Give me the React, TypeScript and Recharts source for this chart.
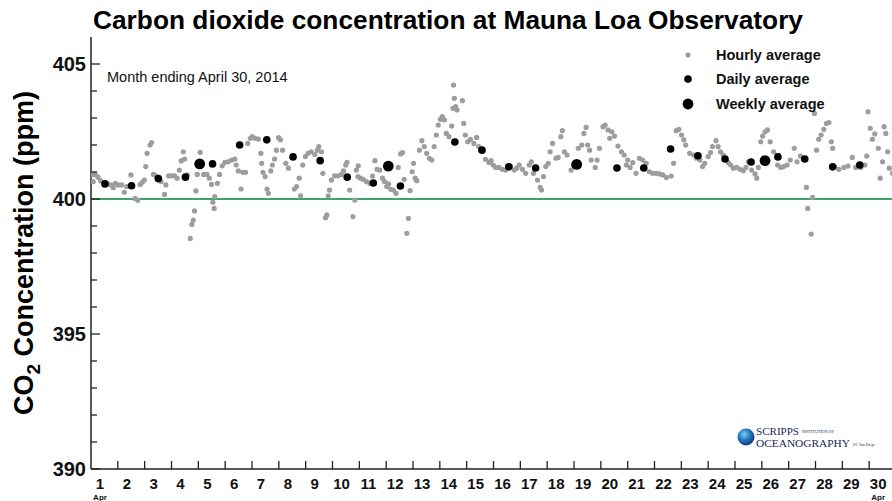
import React from 'react';
import { ScatterChart, Scatter, XAxis, YAxis, ReferenceLine } from 'recharts';

// Hourly averages: [day of April (fractional), CO2 ppm]
const hourly: [number, number][] = [
  [1.04, 400.89], [1.08, 400.64], [1.16, 400.91], [1.26, 400.81], [1.36, 400.67], [1.61, 400.57], [1.74, 400.52], [1.83, 400.42], [1.91, 400.58], [2.01, 400.52],
  [2.14, 400.52], [2.24, 400.25], [2.33, 400.46], [2.49, 400.89], [2.64, 400.02], [2.74, 399.95], [2.83, 400.54], [2.91, 400.62], [2.99, 400.7],
  [3.04, 401.2], [3.09, 401.69], [3.2, 402.0], [3.26, 402.09], [3.33, 400.91], [3.41, 400.86], [3.49, 400.7], [3.61, 400.64], [3.74, 400.17], [3.79, 400.52], [3.89, 400.86], [3.99, 400.86],
  [4.11, 400.86], [4.21, 400.77], [4.29, 401.07], [4.36, 401.41], [4.44, 401.75], [4.49, 401.48], [4.59, 400.89], [4.7, 398.54], [4.76, 399.06], [4.81, 399.22], [4.86, 399.56], [4.91, 400.3], [4.96, 400.91],
  [5.07, 401.73], [5.2, 400.91], [5.32, 400.91], [5.41, 400.77], [5.49, 400.54], [5.54, 399.88], [5.59, 399.65], [5.61, 400.09], [5.71, 400.58], [5.79, 400.91], [5.89, 401.23], [5.99, 401.36],
  [6.11, 401.38], [6.24, 401.44], [6.36, 401.48], [6.41, 401.26], [6.49, 401.04], [6.59, 400.37], [6.66, 400.99], [6.76, 400.99], [6.84, 402.06], [6.94, 402.25],
  [7.01, 402.31], [7.11, 402.25], [7.24, 402.22], [7.33, 401.69], [7.36, 401.32], [7.41, 400.99], [7.49, 400.83], [7.56, 400.37], [7.61, 400.21], [7.7, 401.04], [7.76, 401.26], [7.84, 401.48], [7.91, 401.81], [7.99, 402.27],
  [8.06, 402.19], [8.14, 401.81], [8.26, 401.32], [8.36, 401.14], [8.58, 400.37], [8.66, 400.46], [8.76, 400.77], [8.81, 400.12], [8.89, 401.26], [8.99, 401.57],
  [9.09, 401.69], [9.21, 401.75], [9.34, 401.65], [9.44, 401.81], [9.49, 401.94], [9.59, 401.75], [9.64, 400.95], [9.74, 399.31], [9.79, 399.41], [9.84, 400.12], [9.89, 400.33], [9.96, 400.7],
  [10.08, 400.86], [10.2, 400.86], [10.33, 400.91], [10.41, 401.04], [10.49, 401.26], [10.54, 401.36], [10.64, 400.33], [10.76, 399.35], [10.83, 399.96], [10.89, 401.07], [10.96, 401.23],
  [10.95, 400.83], [11.04, 400.77], [11.14, 400.73], [11.27, 400.64], [11.39, 400.58], [11.49, 400.85], [11.58, 401.42], [11.66, 401.1], [11.76, 401.07], [11.86, 400.77], [11.94, 400.64], [12.02, 400.46],
  [12.09, 400.56], [12.17, 400.36], [12.27, 400.33], [12.37, 400.21], [12.45, 401.17], [12.54, 401.67], [12.61, 401.72], [12.67, 400.73], [12.77, 398.73], [12.83, 399.28], [12.89, 400.31], [12.97, 401.01], [13.02, 401.32],
  [13.08, 400.77], [13.14, 400.68], [13.24, 401.81], [13.33, 402.16], [13.42, 401.94], [13.51, 401.69], [13.61, 401.51], [13.7, 401.44], [13.79, 401.94], [13.87, 402.37], [13.94, 402.74], [14.02, 402.95],
  [14.09, 403.05], [14.17, 402.93], [14.24, 402.43], [14.34, 402.31], [14.44, 402.7], [14.49, 403.36], [14.51, 404.22], [14.54, 403.73], [14.59, 403.42], [14.64, 403.3], [14.84, 403.64], [14.89, 402.8], [14.95, 402.37],
  [15.04, 402.12], [15.14, 402.21], [15.27, 402.06], [15.37, 402.28], [15.45, 401.94], [15.7, 401.47], [15.83, 401.35], [15.91, 401.42], [15.99, 401.26],
  [16.08, 401.17], [16.2, 401.17], [16.33, 401.1], [16.45, 401.07], [16.64, 401.22], [16.77, 401.07], [16.87, 401.14], [16.96, 401.26],
  [17.08, 401.1], [17.2, 400.95], [17.33, 401.26], [17.41, 401.38], [17.49, 400.95], [17.64, 400.7], [17.74, 400.43], [17.79, 400.33], [17.86, 400.83], [17.95, 401.2],
  [18.04, 401.32], [18.11, 401.75], [18.2, 402.06], [18.33, 401.51], [18.41, 401.54], [18.51, 402.31], [18.57, 402.53], [18.64, 401.75], [18.74, 401.63], [18.89, 401.07], [18.99, 401.26],
  [19.16, 401.88], [19.29, 402.0], [19.37, 402.43], [19.45, 402.65], [19.51, 402.0], [19.58, 401.81], [19.64, 401.44], [19.79, 401.17], [19.86, 401.44], [19.95, 401.88],
  [20.08, 402.68], [20.16, 402.74], [20.27, 402.56], [20.33, 402.25], [20.41, 402.49], [20.51, 402.33], [20.64, 401.96], [20.77, 401.75], [20.87, 401.63], [20.95, 401.26],
  [21.0, 401.44], [21.09, 401.17], [21.19, 401.35], [21.31, 400.95], [21.44, 401.51], [21.56, 401.44], [21.69, 401.32], [21.81, 401.01], [21.93, 400.95],
  [22.06, 400.95], [22.19, 400.93], [22.31, 400.89], [22.44, 400.8], [22.62, 400.85], [22.71, 401.32], [22.81, 402.53], [22.91, 402.58], [23.01, 402.37],
  [23.09, 402.19], [23.16, 402.0], [23.31, 401.69], [23.46, 401.63], [23.56, 401.51], [23.69, 401.44], [23.79, 401.2], [23.87, 401.32], [24.0, 401.57],
  [24.09, 401.72], [24.16, 401.94], [24.29, 402.16], [24.37, 401.94], [24.46, 401.75], [24.56, 401.63], [24.75, 401.35], [24.84, 401.26], [24.94, 401.14],
  [25.06, 401.17], [25.19, 401.1], [25.31, 401.05], [25.41, 401.17], [25.5, 401.38], [25.62, 401.07], [25.75, 400.93], [25.81, 400.77], [25.87, 401.17], [25.96, 402.12],
  [26.03, 402.33], [26.12, 402.49], [26.21, 402.56], [26.31, 402.12], [26.44, 401.75], [26.59, 401.26], [26.71, 401.17], [26.81, 401.2], [26.94, 401.26],
  [27.06, 401.44], [27.21, 401.88], [27.31, 401.38], [27.44, 401.59], [27.56, 401.51], [27.66, 400.43], [27.71, 399.65], [27.84, 398.7], [27.89, 400.06], [27.96, 403.17],
  [28.04, 401.81], [28.12, 402.21], [28.21, 402.37], [28.31, 402.58], [28.41, 402.8], [28.5, 402.83], [28.59, 402.12], [28.64, 401.88], [28.71, 401.2], [28.87, 401.1],
  [29.06, 401.17], [29.21, 401.22], [29.37, 401.54], [29.5, 401.17], [29.69, 401.17], [29.84, 401.26], [29.91, 401.59], [29.96, 403.23],
  [30.04, 402.62], [30.12, 402.21], [30.21, 402.41], [30.34, 401.88], [30.41, 400.77], [30.5, 401.38], [30.56, 402.68], [30.62, 402.43], [30.69, 401.75], [30.75, 401.14], [30.87, 400.95], [30.96, 400.93],
];

// Daily averages
const daily: [number, number][] = [
  [1.52, 400.56], [2.51, 400.49], [3.51, 400.76], [4.52, 400.81], [5.53, 401.3], [6.54, 402.0], [7.55, 402.19],
  [8.53, 401.56], [9.54, 401.42], [10.55, 400.81], [11.52, 400.59], [12.53, 400.48], [14.56, 402.11], [15.57, 401.81],
  [16.57, 401.19], [17.57, 401.15], [20.6, 401.15], [21.6, 401.15], [22.6, 401.85], [23.62, 401.6], [24.63, 401.48],
  [25.6, 401.37], [26.6, 401.56], [27.6, 401.48], [28.64, 401.19], [29.65, 401.26],
];

// Weekly averages
const weekly: [number, number][] = [
  [5.05, 401.3], [12.08, 401.22], [19.1, 401.28], [26.12, 401.42],
];

const dayTicks = [1, 2, 3, 4, 5, 6, 7, 8, 9, 10, 11, 12, 13, 14, 15, 16, 17, 18, 19, 20, 21, 22, 23, 24, 25, 26, 27, 28, 29, 30, 31];
const dayLabels = ['1', '2', '3', '4', '5', '6', '7', '8', '9', '10', '11', '12', '13', '14', '15', '16', '17', '18', '19', '20', '21', '22', '23', '24', '25', '26', '27', '28', '29', '30'];
const yTicks = [390, 391, 392, 393, 394, 395, 396, 397, 398, 399, 400, 401, 402, 403, 404, 405];
const yLabelled = [390, 395, 400, 405];

const FONT = "'Liberation Sans', Arial, Helvetica, sans-serif";
const SERIF = "'Liberation Serif', 'DejaVu Serif', serif";
const AXIS = '#222';

const toPts = (arr: [number, number][]) => arr.map(([t, v]) => ({ t, v }));

const YTick = (props: any) => {
  const { x, y, payload } = props;
  const major = yLabelled.includes(payload.value);
  return (
    <g>
      <line x1={x} y1={y} x2={x + (major ? 9 : 6)} y2={y} stroke={AXIS} strokeWidth={1.3} />
      {major && (
        <text x={x - 5} y={y + 7} textAnchor="end" fontFamily={FONT} fontWeight="bold" fontSize={20} fill="#111">
          {payload.value}
        </text>
      )}
    </g>
  );
};

const XTickBottom = (props: any) => {
  const { x, y, payload } = props;
  const idx = payload.value - 1;
  const label = dayLabels[idx];
  return (
    <g>
      {payload.value > 1 && <line x1={x} y1={y} x2={x} y2={y - 8} stroke={AXIS} strokeWidth={1.3} />}
      {label && (
        <text x={x + 9} y={y + 20} textAnchor="middle" fontFamily={FONT} fontWeight="bold" fontSize={15} fill="#111">
          {label}
        </text>
      )}
      {(payload.value === 1 || payload.value === 30) && (
        <text x={x + 9} y={y + 31} textAnchor="middle" fontFamily={FONT} fontWeight="bold" fontSize={8} fill="#111">
          Apr
        </text>
      )}
    </g>
  );
};

const XTickTop = (props: any) => {
  const { x, y, payload } = props;
  if (payload.value <= 1) return <g />;
  return <line x1={x} y1={y} x2={x} y2={y + 8} stroke={AXIS} strokeWidth={1.3} />;
};

const dot = (r: number, fill: string) => (props: any) => (
  <circle cx={props.cx} cy={props.cy} r={r} fill={fill} />
);

export default function App() {
  return (
    <div style={{ position: 'absolute', left: 0, top: 0, width: 892, height: 501, overflow: 'hidden', background: '#fff' }}>
      <ScatterChart width={896} height={501} margin={{ top: 37, right: 0, bottom: 0, left: 0 }}>
        <XAxis
          xAxisId="bottom"
          type="number"
          dataKey="t"
          domain={[1, 31]}
          ticks={dayTicks}
          interval={0}
          height={32}
          tickSize={0}
          tickMargin={0}
          tickLine={false}
          axisLine={{ stroke: AXIS, strokeWidth: 1.5 }}
          tick={<XTickBottom />}
          allowDataOverflow
        />
        <XAxis
          xAxisId="top"
          orientation="top"
          type="number"
          dataKey="t"
          domain={[1, 31]}
          ticks={dayTicks}
          interval={0}
          height={0}
          tickSize={0}
          tickMargin={0}
          tickLine={false}
          axisLine={{ stroke: AXIS, strokeWidth: 1.5 }}
          tick={<XTickTop />}
          allowDataOverflow
        />
        <YAxis
          type="number"
          dataKey="v"
          domain={[390, 406]}
          ticks={yTicks}
          interval={0}
          width={91}
          tickSize={0}
          tickMargin={0}
          tickLine={false}
          axisLine={{ stroke: AXIS, strokeWidth: 1.5 }}
          tick={<YTick />}
          allowDataOverflow
        />
        <ReferenceLine xAxisId="bottom" y={400} stroke="#3aa868" strokeWidth={2.2} />
        <Scatter xAxisId="bottom" data={toPts(hourly)} shape={dot(2.6, '#9d9d9d')} isAnimationActive={false} />
        <Scatter xAxisId="bottom" data={toPts(daily)} shape={dot(3.8, '#000')} isAnimationActive={false} />
        <Scatter xAxisId="bottom" data={toPts(weekly)} shape={dot(5.4, '#000')} isAnimationActive={false} />
      </ScatterChart>
      <svg width={892} height={501} style={{ position: 'absolute', left: 0, top: 0, pointerEvents: 'none' }}>
        <defs>
          <radialGradient id="globe" cx="40%" cy="35%" r="70%">
            <stop offset="0%" stopColor="#7fd0f0" />
            <stop offset="45%" stopColor="#2a7fc0" />
            <stop offset="100%" stopColor="#0d2f73" />
          </radialGradient>
        </defs>
        <text x={93} y={29} fontFamily={FONT} fontWeight="bold" fontSize={26} textLength={710} lengthAdjust="spacingAndGlyphs" fill="#000">
          Carbon dioxide concentration at Mauna Loa Observatory
        </text>
        <text x={107} y={82} fontFamily={FONT} fontSize={14.5} fill="#111">
          Month ending April 30, 2014
        </text>
        <text transform="translate(33,253) rotate(-90)" textAnchor="middle" fontFamily={FONT} fontWeight="bold" fontSize={27} fill="#000">
          CO<tspan fontSize={19} dy={7}>2</tspan><tspan dy={-7}> Concentration (ppm)</tspan>
        </text>
        <circle cx={688} cy={55} r={2.6} fill="#9d9d9d" />
        <circle cx={688} cy={79} r={3.8} fill="#000" />
        <circle cx={688} cy={104} r={5.4} fill="#000" />
        <text x={716} y={60} fontFamily={FONT} fontWeight="bold" fontSize={14.5} fill="#111">Hourly average</text>
        <text x={716} y={84} fontFamily={FONT} fontWeight="bold" fontSize={14.5} fill="#111">Daily average</text>
        <text x={716} y={109} fontFamily={FONT} fontWeight="bold" fontSize={14.5} fill="#111">Weekly average</text>
        <circle cx={746} cy={437} r={8.5} fill="url(#globe)" />
        <text x={756} y={435} fontFamily={SERIF} fontSize={10} textLength={43} lengthAdjust="spacingAndGlyphs" fill="#1a2a5a">SCRIPPS</text>
        <text x={802} y={433} fontFamily={SERIF} fontSize={3.5} textLength={32} lengthAdjust="spacingAndGlyphs" fill="#1a2a5a">INSTITUTION OF</text>
        <text x={756} y={447} fontFamily={SERIF} fontSize={10} textLength={94} lengthAdjust="spacingAndGlyphs" fill="#1a2a5a">OCEANOGRAPHY</text>
        <text x={853} y={446} fontFamily={SERIF} fontSize={3.5} textLength={22} lengthAdjust="spacingAndGlyphs" fill="#1a2a5a">UC San Diego</text>
      </svg>
    </div>
  );
}
